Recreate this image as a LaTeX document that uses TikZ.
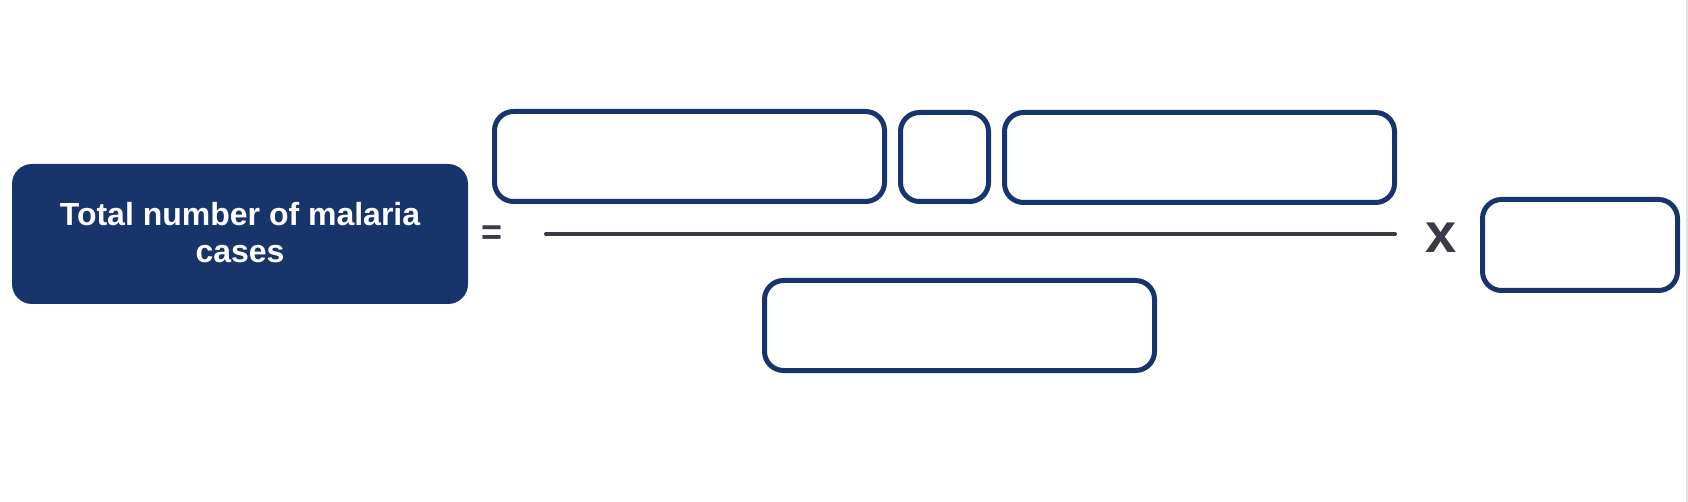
\documentclass[tikz,border=0pt]{standalone}
\usepackage{fontspec}
\setmainfont{Liberation Sans}
\definecolor{navy}{HTML}{17346B}
\definecolor{opgray}{HTML}{3B3B48}
\definecolor{edgegray}{HTML}{E2E2E2}
\tikzset{
  blank/.style={draw=navy, line width=5pt, rounded corners=19pt, fill=white,
    rectangle, anchor=north west, inner sep=0pt, outer sep=0pt},
  mainbox/.style={fill=navy, rounded corners=20pt, rectangle, anchor=north west,
    inner sep=0pt, outer sep=0pt, minimum width=456pt, minimum height=140pt},
  optext/.style={text=opgray, inner sep=0pt, font=\bfseries}
}
\begin{document}
\begin{tikzpicture}[x=1pt,y=-1pt]
\useasboundingbox (0,0) rectangle (1688,502);
\fill[white] (0,0) rectangle (1688,502);
\fill[edgegray] (1686,0) rectangle (1688,502);
% left result box
\node[mainbox] (total) at (12,164) {};
\node[text=white, font=\fontsize{32}{37}\selectfont\bfseries, align=center, inner sep=0pt, anchor=base] (totaltext) at (240,263)
  {Total number of malaria\\cases};
% equals sign
\node[optext, font=\fontsize{36}{36}\selectfont\bfseries] (eq) at (492.5,235) {=};
% numerator boxes
\node[blank, minimum width=390pt, minimum height=90pt] (n1) at (494.5,111.5) {};
\node[blank, minimum width=88pt, minimum height=89pt] (n2) at (900.5,112.5) {};
\node[blank, minimum width=390pt, minimum height=90pt] (n3) at (1004.5,112.5) {};
% fraction bar
\coordinate (barL) at (546,234);
\coordinate (barR) at (1395,234);
\draw[opgray, line width=4pt, line cap=round] (barL) -- (barR);
% denominator box
\node[blank, minimum width=390pt, minimum height=90pt] (d1) at (764.5,280.5) {};
% times sign
\node[optext, font=\fontsize{56}{56}\selectfont\bfseries, anchor=base] (times) at (1441.5,253) {x};
% multiplier box
\node[blank, minimum width=195pt, minimum height=91pt] (m1) at (1482.5,199.5) {};
\end{tikzpicture}
\end{document}
